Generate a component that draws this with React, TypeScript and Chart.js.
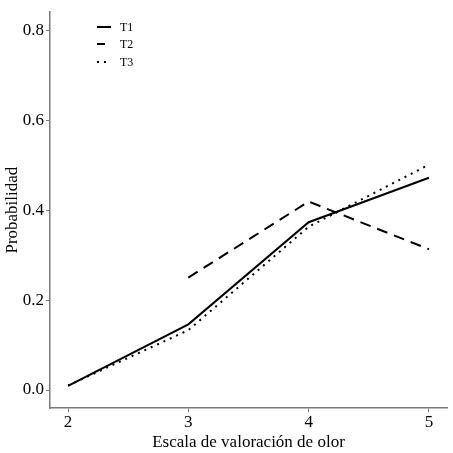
import React, { useEffect, useRef } from "react";
import { Chart, registerables } from "chart.js";

Chart.register(...registerables);

const xValues = [2, 3, 4, 5];
const t1Values = [0.009, 0.146, 0.373, 0.472];
const t2Values = [null, 0.25, 0.419, 0.313];
const t3Values = [0.01, 0.133, 0.363, 0.501];
const xTicks = [2, 3, 4, 5];
const yTicks = [0, 0.2, 0.4, 0.6, 0.8];
const seriesNames = ["T1", "T2", "T3"];

const FONT = "'Liberation Serif', 'Times New Roman', serif";
const AXIS_COLOR = "#7a7a7a";
const DASHES: number[][] = [[], [11, 7], [2, 5]];

const legendPlugin = {
  id: "customLegend",
  afterDraw(chart: any) {
    const ctx = chart.ctx;
    ctx.save();
    const ys = [27, 44, 62];
    const ends = [111, 105, 108];
    chart.data.datasets.forEach((ds: any, i: number) => {
      ctx.beginPath();
      ctx.setLineDash(i === 1 ? [] : DASHES[i]);
      ctx.lineWidth = 2;
      ctx.strokeStyle = "#000";
      ctx.moveTo(97, ys[i]);
      ctx.lineTo(ends[i], ys[i]);
      ctx.stroke();
      ctx.setLineDash([]);
      ctx.fillStyle = "#000";
      ctx.font = `12px ${FONT}`;
      ctx.textBaseline = "middle";
      ctx.textAlign = "left";
      ctx.fillText(ds.label, 120, ys[i] + 1);
    });
    ctx.restore();
  },
};

function build(values: (number | null)[]) {
  return xValues.map((x, i) => ({ x, y: values[i] }));
}

export default function App() {
  const ref = useRef<HTMLCanvasElement>(null);
  useEffect(() => {
    document.body.style.margin = "0";
    const canvas = ref.current!;
    const chart = new Chart(canvas, {
      type: "line",
      data: {
        datasets: [t1Values, t2Values, t3Values].map((vals, i) => ({
          label: seriesNames[i],
          data: build(vals),
          borderColor: "#000",
          borderWidth: 2,
          borderDash: DASHES[i],
          borderCapStyle: "butt",
          pointRadius: 0,
          tension: 0,
          fill: false,
        })),
      },
      options: {
        animation: false,
        responsive: false,
        maintainAspectRatio: false,
        layout: { padding: { top: 5, right: 6, left: 2, bottom: 0 } },
        plugins: { legend: { display: false }, tooltip: { enabled: false } },
        scales: {
          x: {
            type: "linear",
            min: 1.85,
            max: 5.15,
            afterBuildTicks: (s: any) => {
              s.ticks = xTicks.map((v) => ({ value: v }));
            },
            afterFit: (s: any) => {
              s.height = 45;
            },
            ticks: {
              color: "#000",
              font: { family: FONT, size: 17 },
              padding: 0,
              maxRotation: 0,
              callback: (v: any) => String(v),
            },
            grid: {
              drawOnChartArea: false,
              drawTicks: true,
              tickLength: 4,
              color: AXIS_COLOR,
            },
            border: { color: AXIS_COLOR, width: 1.5 },
            title: {
              display: true,
              text: "Escala de valoración de olor",
              color: "#000",
              font: { family: FONT, size: 17 },
              padding: { top: 0, bottom: 0 },
            },
          },
          y: {
            type: "linear",
            min: -0.04,
            max: 0.84,
            afterBuildTicks: (s: any) => {
              s.ticks = yTicks.map((v) => ({ value: v }));
            },
            afterFit: (s: any) => {
              s.width = 48;
            },
            ticks: {
              color: "#000",
              font: { family: FONT, size: 17 },
              padding: 2,
              callback: (v: any) => Number(v).toFixed(1),
            },
            grid: {
              drawOnChartArea: false,
              drawTicks: true,
              tickLength: 4,
              color: AXIS_COLOR,
            },
            border: { color: AXIS_COLOR, width: 1.5 },
            title: {
              display: true,
              text: "Probabilidad",
              color: "#000",
              font: { family: FONT, size: 17 },
              padding: { top: 0, bottom: 0 },
            },
          },
        },
      },
      plugins: [legendPlugin],
    } as any);
    return () => chart.destroy();
  }, []);
  return (
    <div style={{ position: "absolute", left: 0, top: 0, width: 453, height: 453, background: "#fff" }}>
      <canvas ref={ref} width={453} height={453} style={{ width: 453, height: 453 }} />
    </div>
  );
}
